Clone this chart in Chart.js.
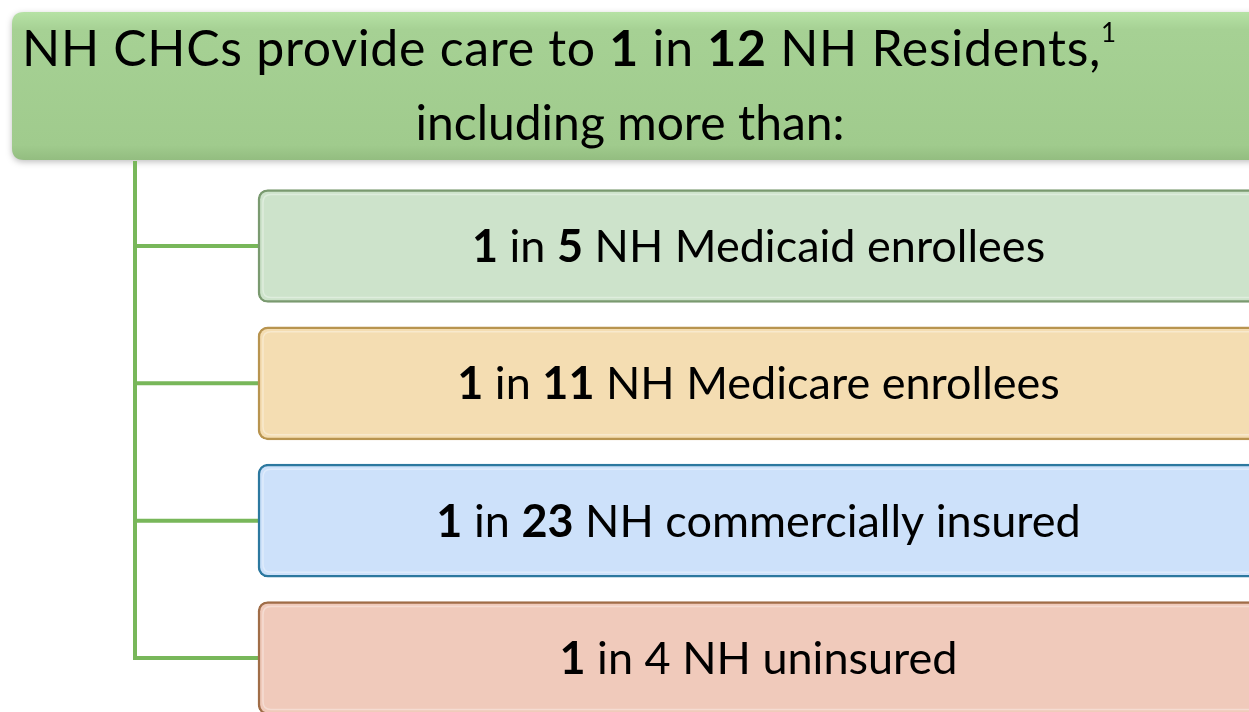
<!DOCTYPE html>
<html>
<head>
<meta charset="utf-8">
<script src="https://cdn.jsdelivr.net/npm/chart.js@4"></script>
<style>
  body { margin: 0; background: #fff; }
  canvas { display: block; }
</style>
</head>
<body>
<canvas id="myChart" width="1249" height="712"></canvas>
<script>
// headline: 1 in 12 NH residents
const residentsRatio = 12;
const headLine2 = 'including more than:';

// the four groups
const groups = ['NH Medicaid enrollees', 'NH Medicare enrollees', 'NH commercially insured', 'NH uninsured'];
const oneIn = [5, 11, 23, 4];
const ratioBold = [true, true, true, false];
const fullBand = [1, 1, 1, 1];

const fills = ['#cde3cb', '#f4ddb2', '#cde1fa', '#f0cabb'];
const borders = ['#7a9a70', '#b8944f', '#2c789f', '#a06d48'];

const FONT = 'Lato, "Open Sans", sans-serif';

function richWidth(ctx, segs, size) {
	let w = 0;
	segs.forEach(s => {
		ctx.font = (s.b ? 'bold ' : '') + (s.size || size) + 'px ' + FONT;
		w += ctx.measureText(s.t).width;
	});
	return w;
}

function drawRich(ctx, segs, x, y, size, align) {
	let w = richWidth(ctx, segs, size);
	let cx = align === 'center' ? x - w / 2 : x;
	ctx.textAlign = 'left';
	ctx.textBaseline = 'alphabetic';
	ctx.fillStyle = '#000';
	segs.forEach(s => {
		ctx.font = (s.b ? 'bold ' : '') + (s.size || size) + 'px ' + FONT;
		ctx.fillText(s.t, cx, y + (s.dy || 0));
		cx += ctx.measureText(s.t).width;
	});
}

function roundRect(ctx, x, y, w, h, r) {
	ctx.beginPath();
	ctx.moveTo(x + r, y);
	ctx.lineTo(x + w - r, y);
	ctx.quadraticCurveTo(x + w, y, x + w, y + r);
	ctx.lineTo(x + w, y + h - r);
	ctx.quadraticCurveTo(x + w, y + h, x + w - r, y + h);
	ctx.lineTo(x + r, y + h);
	ctx.quadraticCurveTo(x, y + h, x, y + h - r);
	ctx.lineTo(x, y + r);
	ctx.quadraticCurveTo(x, y, x + r, y);
	ctx.closePath();
}

const treePlugin = {
	id: 'tree',
	beforeDatasetsDraw(chart) {
		const ctx = chart.ctx;
		const yScale = chart.scales.y;
		const bars = chart.getDatasetMeta(0).data;

		// header box
		ctx.save();
		ctx.shadowColor = 'rgba(0,0,0,0.25)';
		ctx.shadowBlur = 6;
		ctx.shadowOffsetY = 2;
		let g = ctx.createLinearGradient(0, 12, 0, 160);
		g.addColorStop(0, '#b6e2a5');
		g.addColorStop(0.12, '#a6d194');
		g.addColorStop(0.9, '#a0cb8d');
		g.addColorStop(1, '#93bd80');
		roundRect(ctx, 12, 12, 1260, 148, 12);
		ctx.fillStyle = g;
		ctx.fill();
		ctx.restore();

		// connector lines
		ctx.save();
		ctx.strokeStyle = '#78b75a';
		ctx.lineWidth = 4;
		ctx.lineCap = 'square';
		ctx.beginPath();
		ctx.moveTo(135, 163);
		ctx.lineTo(135, yScale.getPixelForValue(groups.length - 1));
		groups.forEach((gname, i) => {
			let y = yScale.getPixelForValue(i);
			ctx.moveTo(135, y);
			ctx.lineTo(bars[i].base, y);
		});
		ctx.stroke();
		ctx.restore();
	},
	afterDatasetsDraw(chart) {
		const ctx = chart.ctx;
		const bars = chart.getDatasetMeta(0).data;

		// inner highlight of the group boxes
		ctx.save();
		bars.forEach(bar => {
			let top = bar.y - bar.height / 2;
			roundRect(ctx, bar.base + 5, top + 5, 1300, bar.height - 10, 8);
			ctx.strokeStyle = 'rgba(255,255,255,0.35)';
			ctx.lineWidth = 1.5;
			ctx.stroke();
		});
		ctx.restore();

		ctx.save();
		ctx.letterSpacing = '0.7px';
		drawRich(ctx, [
			{ t: 'NH CHCs provide care to ' },
			{ t: '1', b: true },
			{ t: ' in ' },
			{ t: String(residentsRatio), b: true },
			{ t: ' NH Residents,' },
			{ t: '1', size: 26, dy: -24 }
		], 22, 66, 50, 'left');
		ctx.letterSpacing = '0px';
		drawRich(ctx, [{ t: headLine2 }], 630, 140, 48, 'center');

		bars.forEach((bar, i) => {
			let cx = (bar.x + bar.base) / 2;
			drawRich(ctx, [
				{ t: '1', b: true },
				{ t: ' in ' },
				{ t: String(oneIn[i]), b: ratioBold[i] },
				{ t: ' ' + groups[i] }
			], cx, bar.y + 16, 45, 'center');
		});
		ctx.restore();
	}
};

const ctx = document.getElementById('myChart');

let chart = new Chart(ctx, {
	type: 'bar',
	data: {
		labels: groups,
		datasets: [{
			data: fullBand,
			backgroundColor: fills,
			borderColor: borders,
			borderWidth: 2.5,
			borderRadius: 10,
			borderSkipped: false,
			barThickness: 113,
			clip: false,
		}]
	},
	options: {
		indexAxis: 'y',
		responsive: false,
		animation: false,
		layout: {
			padding: { top: 246, bottom: 54, left: 258, right: 0 }
		},
		plugins: {
			legend: { display: false },
			tooltip: { enabled: false },
		},
		scales: {
			x: { type: 'linear', min: 0, max: 0.99, display: false },
			y: { type: 'category', offset: false, display: false }
		}
	},
	plugins: [treePlugin]
});
</script>
</body>
</html>
